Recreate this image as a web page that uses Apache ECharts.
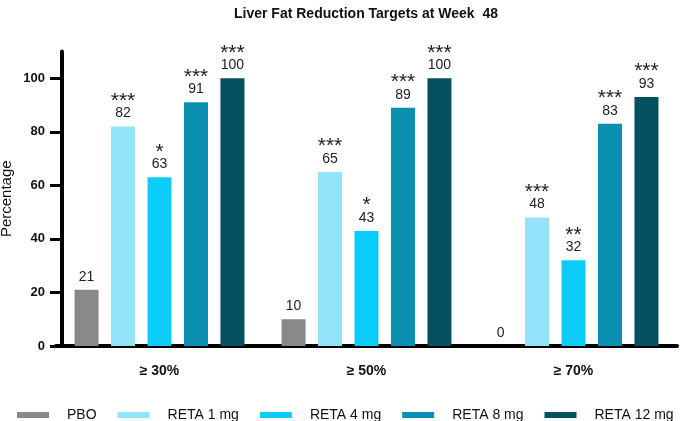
<!DOCTYPE html>
<html><head><meta charset="utf-8">
<script src="https://cdn.jsdelivr.net/npm/echarts@6/dist/echarts.min.js"></script>
<style>html,body{margin:0;padding:0;background:#fff}#c{width:680px;height:421px}</style>
</head><body><div id="c"></div>
<script>
const categories = ['≥ 30%', '≥ 50%', '≥ 70%'];
const seriesNames = ['PBO', 'RETA 1 mg', 'RETA 4 mg', 'RETA 8 mg', 'RETA 12 mg'];
const pbo = [21, 10, 0];
const reta1 = [82, 65, 48];
const reta4 = [63, 43, 32];
const reta8 = [91, 89, 83];
const reta12 = [100, 100, 93];
const starsPbo = ['', '', ''];
const starsReta1 = ['***', '***', '***'];
const starsReta4 = ['*', '*', '**'];
const starsReta8 = ['***', '***', '***'];
const starsReta12 = ['***', '***', '***'];
const yTicks = [0, 20, 40, 60, 80, 100];
const colors = ['#88898b', '#93e4fb', '#0ccdf9', '#0a8fb0', '#04505f'];

const values = [pbo, reta1, reta4, reta8, reta12];
const stars = [starsPbo, starsReta1, starsReta4, starsReta8, starsReta12];
const FONT = '"Liberation Sans", Arial, sans-serif';

const chart = echarts.init(document.getElementById('c'), null, {renderer: 'canvas'});
chart.setOption({
  animation: false,
  textStyle: {fontFamily: FONT},
  title: {
    text: 'Liver Fat Reduction Targets at Week  48',
    left: 361, textAlign: 'center', top: 2,
    textStyle: {fontFamily: FONT, fontSize: 14, fontWeight: 'bold', color: '#111'}
  },
  legend: {
    left: 12, top: 403, itemWidth: 32, itemHeight: 6, itemGap: 21, icon: 'rect',
    textStyle: {fontFamily: FONT, fontSize: 14, color: '#111', padding: [0, 0, 0, 13]},
    data: seriesNames
  },
  grid: {left: 56, right: 3, top: 51.5, bottom: 75, containLabel: false, outerBoundsMode: 'none'},
  xAxis: {
    type: 'category', data: categories,
    axisLine: {lineStyle: {color: '#000', width: 4}},
    axisTick: {alignWithLabel: true, length: 10, lineStyle: {color: '#000', width: 3}},
    axisLabel: {margin: 18, fontFamily: FONT, fontSize: 14, fontWeight: 'bold', color: '#111'}
  },
  yAxis: {
    type: 'value', min: 0, max: 110, interval: 20, offset: -6,
    name: 'Percentage', nameLocation: 'middle', nameGap: 48, nameMoveOverlap: false,
    nameTextStyle: {fontFamily: FONT, fontSize: 15, color: '#111'},
    axisLine: {show: true, lineStyle: {color: '#000', width: 4}},
    axisTick: {show: true, length: 12, customValues: yTicks, lineStyle: {color: '#000', width: 3}},
    axisLabel: {margin: 17, customValues: yTicks, fontFamily: FONT, fontSize: 13, fontWeight: 'bold', color: '#111'},
    splitLine: {show: false}
  },
  series: seriesNames.map((name, i) => ({
    name: name, type: 'bar', data: values[i], barWidth: 24, barGap: '52%',
    itemStyle: {color: colors[i]},
    label: {
      show: true, position: 'top', distance: 5,
      formatter: p => {
        const s = stars[i][p.dataIndex];
        return (s ? '{s|' + s + '}\n' : '') + '{v|' + p.value + '}';
      },
      rich: {
        s: {fontFamily: FONT, fontSize: 21, lineHeight: 9, color: '#222'},
        v: {fontFamily: FONT, fontSize: 14, lineHeight: 16, color: '#222'}
      }
    }
  }))
});
</script></body></html>
